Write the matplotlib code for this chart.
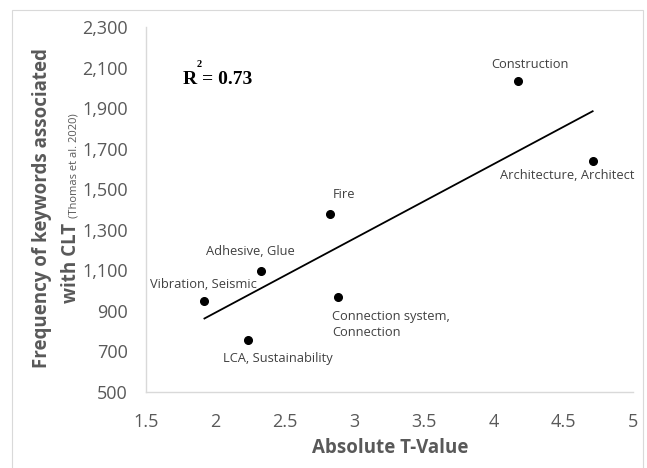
import matplotlib
matplotlib.use("Agg")
import matplotlib.pyplot as plt
import numpy as np
from matplotlib.patches import Rectangle

# keywords vs absolute t-value
labels = [
    "Construction",
    "Architecture, Architect",
    "Fire",
    "Adhesive, Glue",
    "Vibration, Seismic",
    "LCA, Sustainability",
    "Connection system,\nConnection",
]
t_values = [4.17, 4.71, 2.82, 2.33, 1.92, 2.23, 2.88]
frequency = [2034, 1640, 1379, 1098, 950, 758, 970]

x_ticks = [1.5, 2, 2.5, 3, 3.5, 4, 4.5, 5]
x_tick_labels = ["1.5", "2", "2.5", "3", "3.5", "4", "4.5", "5"]
y_ticks = [500, 700, 900, 1100, 1300, 1500, 1700, 1900, 2100, 2300]

# label offsets from the point, in pixels (dx, dy) and horizontal alignment
label_pos = [
    (12, 16, "center"),
    (-25, -15, "center"),
    (14, 19, "center"),
    (-11, 19, "center"),
    (-1, 16, "center"),
    (30, -19, "center"),
    (-6, -28, "left"),
]
font = "Open Sans"
gray = "#595959"
text_col = "#404040"

W, H = 647, 468
fig = plt.figure(figsize=(6.47, 4.68), dpi=100)
fig.patches.append(Rectangle((12 / W, -0.1), 631 / W, 1.1 - 10 / H,
                             transform=fig.transFigure, fill=False,
                             edgecolor="#d9d9d9", linewidth=0.8))
ax = fig.add_axes([146 / W, 1 - 392 / H, 487 / W, 365 / H])

ax.plot(t_values, frequency, "o", color="black", markersize=5.5, zorder=3)

slope, intercept = np.polyfit(t_values, frequency, 1)
xs = np.array([min(t_values), max(t_values)])
ax.plot(xs, slope * xs + intercept, color="black", linewidth=1.3)

for lab, x, y, (dx, dy, ha) in zip(labels, t_values, frequency, label_pos):
    ax.annotate(lab, (x, y), xytext=(dx, dy), textcoords="offset pixels",
                ha=ha, va="center", fontsize=9.3, family=font, color=text_col,
                linespacing=1.35)

ax.text(1.766, 2039, "R = 0.73", fontsize=14, family="Liberation Serif",
        fontweight="bold", ha="left", va="center")
ax.text(1.881, 2113, "2", fontsize=7.5, family="Liberation Serif",
        fontweight="bold", ha="center", va="center")

ax.set_xlim(1.5, 5)
ax.set_ylim(500, 2300)
ax.set_xticks(x_ticks)
ax.set_xticklabels(x_tick_labels)
ax.set_yticks(y_ticks)
ax.set_yticklabels([f"{v:,}" for v in y_ticks])
ax.tick_params(length=0, labelsize=13, labelcolor=gray)
ax.tick_params(axis="y", pad=13)
ax.tick_params(axis="x", pad=15)
for t in ax.get_xticklabels() + ax.get_yticklabels():
    t.set_family(font)
for side in ("top", "right"):
    ax.spines[side].set_visible(False)
for side in ("left", "bottom"):
    ax.spines[side].set_color("#d9d9d9")
    ax.spines[side].set_linewidth(1.0)

fig.text(390 / W, 1 - 448 / H, "Absolute T-Value", fontsize=13.5,
         fontweight="bold", family=font, color=gray, ha="center", va="center")
fig.text(42 / W, 1 - 208 / H, "Frequency of keywords associated",
         fontsize=13.5, fontweight="bold", family=font, color=gray,
         rotation=90, ha="center", va="center")

# second line of the y title: big "with CLT" + small source note, centred
renderer = fig.canvas.get_renderer()
base_x = 76 / W
t1 = fig.text(base_x, 0.5, "with CLT ", fontsize=13.5, fontweight="bold",
              family=font, color=gray, rotation=90, rotation_mode="anchor",
              ha="left", va="baseline")
t2 = fig.text(base_x, 0.5, "(Thomas et al. 2020)", fontsize=8,
              family=font, color=gray, rotation=90, rotation_mode="anchor",
              ha="left", va="baseline")
len1 = t1.get_window_extent(renderer).height
len2 = t2.get_window_extent(renderer).height
start = (H - 208) - (len1 + len2) / 2
t1.set_y(start / H)
t2.set_y((start + len1) / H)

fig.savefig("out.png", dpi=100)
